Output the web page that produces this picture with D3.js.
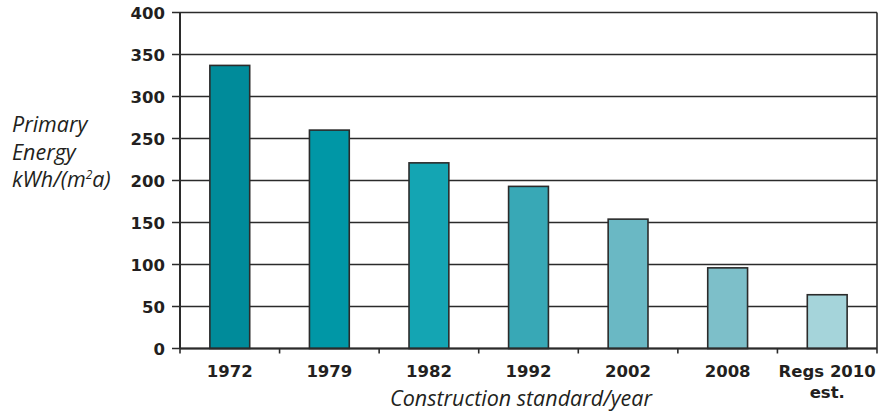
<!doctype html>
<html lang="en">
  <head>
    <meta charset="utf-8">
    <title>Primary Energy by Construction Standard</title>
    <style>
      body { margin: 0; background: #fff; }
      .tick-label { font-family: "DejaVu Sans", sans-serif; font-weight: bold; font-size: 16.5px; fill: #231f20; }
      .axis-title { font-family: "Open Sans", sans-serif; font-style: italic; font-size: 21.5px; fill: #231f20; }
    </style>
  </head>
  <body>
    <svg id="chart" width="894" height="419"></svg>

    <script src="https://d3js.org/d3.v7.min.js"></script>
    <script>
    // data
    var categories = ["1972", "1979", "1982", "1992", "2002", "2008", "Regs 2010 est."];
    var values = [337, 260, 221, 193, 154, 96, 64];
    var barColors = ["#008b9a", "#0097a6", "#14a5b3", "#38a8b6", "#6ab8c4", "#7dbfc9", "#a5d4da"];
    var yTicks = [0, 50, 100, 150, 200, 250, 300, 350, 400];

    var svg = d3.select("#chart");
    var plotLeft = 180, plotRight = 877, plotTop = 12.5, plotBottom = 348.5;

    var x = d3.scaleBand().domain(categories).range([plotLeft, plotRight]).paddingInner(0.6).paddingOuter(0.3);
    var band = d3.scaleBand().domain(categories).range([plotLeft, plotRight]);
    var y = d3.scaleLinear().domain([0, 400]).range([plotBottom, plotTop]);

    // gridlines (with the small outer tick on the left)
    svg.append("g")
      .selectAll("line")
      .data(yTicks)
      .join("line")
      .attr("x1", plotLeft - 8)
      .attr("x2", plotRight)
      .attr("y1", d => y(d))
      .attr("y2", d => y(d))
      .attr("stroke", "#2b2b2b")
      .attr("stroke-width", 1.6);

    // bars
    svg.append("g")
      .selectAll("rect")
      .data(values)
      .join("rect")
      .attr("x", (d, i) => x(categories[i]))
      .attr("width", x.bandwidth())
      .attr("y", d => y(d))
      .attr("height", d => y(0) - y(d))
      .attr("fill", (d, i) => barColors[i])
      .attr("stroke", "#2b2b2b")
      .attr("stroke-width", 1.6);

    // axis frame
    svg.append("line").attr("x1", plotLeft).attr("x2", plotLeft).attr("y1", plotTop).attr("y2", plotBottom)
      .attr("stroke", "#2b2b2b").attr("stroke-width", 2);
    svg.append("line").attr("x1", plotRight).attr("x2", plotRight).attr("y1", plotTop).attr("y2", plotBottom + 5)
      .attr("stroke", "#2b2b2b").attr("stroke-width", 1.6);
    svg.append("line").attr("x1", plotLeft).attr("x2", plotRight).attr("y1", plotBottom).attr("y2", plotBottom)
      .attr("stroke", "#2b2b2b").attr("stroke-width", 2);

    // x tick marks at band edges
    svg.append("g")
      .selectAll("line")
      .data(categories)
      .join("line")
      .attr("x1", d => band(d))
      .attr("x2", d => band(d))
      .attr("y1", plotBottom)
      .attr("y2", plotBottom + 5)
      .attr("stroke", "#2b2b2b")
      .attr("stroke-width", 1.6);

    // y tick labels
    svg.append("g")
      .selectAll("text")
      .data(yTicks)
      .join("text")
      .attr("class", "tick-label")
      .attr("x", 165)
      .attr("y", d => y(d) + 6)
      .attr("text-anchor", "end")
      .text(d => d);

    // x tick labels
    var xl = svg.append("g")
      .selectAll("text")
      .data(categories)
      .join("text")
      .attr("class", "tick-label")
      .attr("text-anchor", "middle")
      .attr("y", 377);
    xl.each(function(d) {
      var t = d3.select(this);
      var cx = band(d) + band.bandwidth() / 2;
      if (d === "Regs 2010 est.") {
        t.append("tspan").attr("x", cx).text("Regs 2010");
        t.append("tspan").attr("x", cx).attr("dy", 21).text("est.");
      } else {
        t.attr("x", cx).text(d);
      }
    });

    // y axis title
    var yt = svg.append("text").attr("class", "axis-title").attr("x", 12).attr("y", 132);
    yt.append("tspan").attr("x", 12).text("Primary");
    yt.append("tspan").attr("x", 12).attr("dy", 27.5).text("Energy");
    yt.append("tspan").attr("x", 12).attr("dy", 27.5).text("kWh/(m");
    yt.append("tspan").attr("dy", -8).attr("font-size", 12).text("2");
    yt.append("tspan").attr("dy", 8).text("a)");

    // x axis title
    svg.append("text")
      .attr("class", "axis-title")
      .attr("x", 521)
      .attr("y", 406)
      .attr("text-anchor", "middle")
      .text("Construction standard/year");
    </script>
  </body>
</html>
